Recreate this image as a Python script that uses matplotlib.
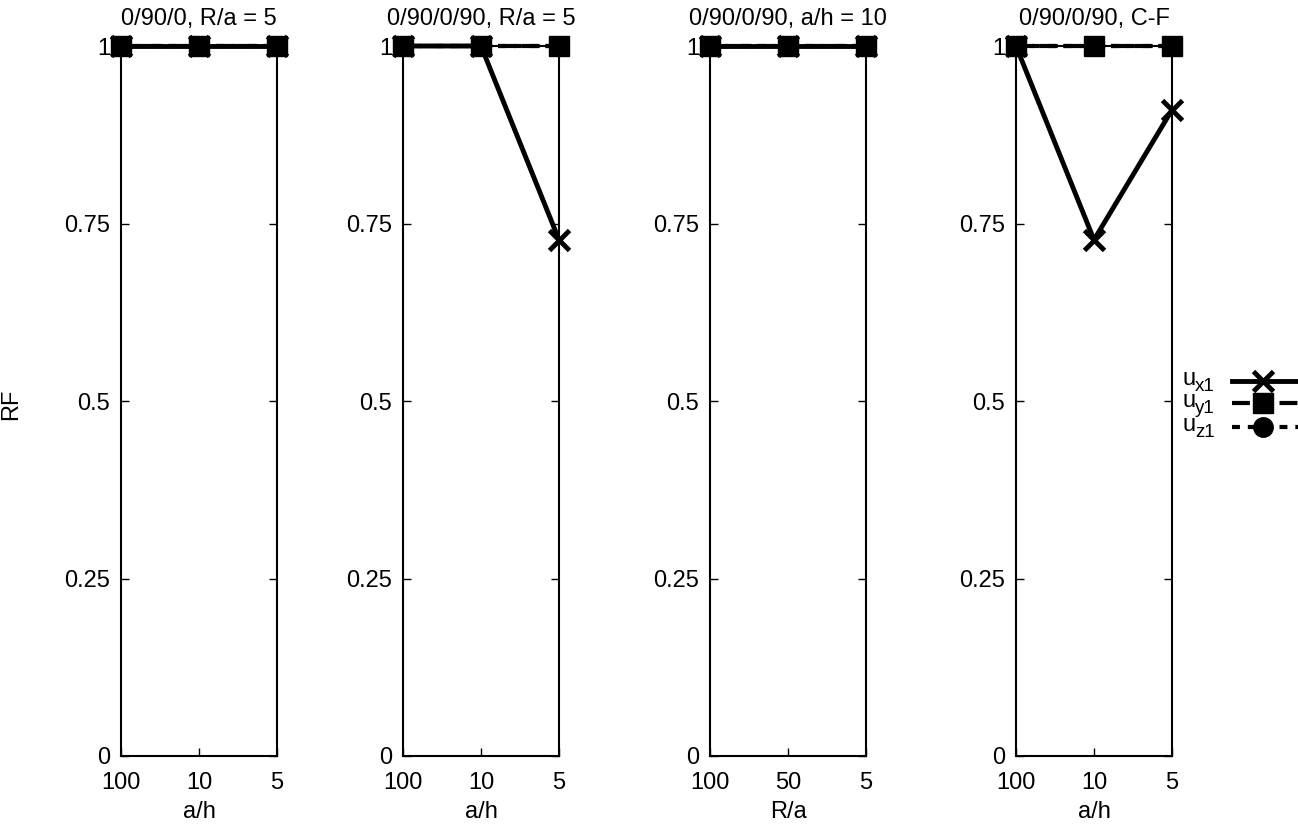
#!/usr/bin/env python3

import matplotlib
matplotlib.use('Agg')
import matplotlib.pyplot as plt

plt.rcParams['font.family'] = ['Liberation Sans', 'DejaVu Sans']

# panel data
titles = ['0/90/0, R/a = 5', '0/90/0/90, R/a = 5', '0/90/0/90, a/h = 10', '0/90/0/90, C-F']
xlabels = ['a/h', 'a/h', 'R/a', 'a/h']
xticklabels = [['100', '10', '5'], ['100', '10', '5'], ['100', '50', '5'], ['100', '10', '5']]
ux1 = [[1, 1, 1], [1, 1, 0.727], [1, 1, 1], [1, 0.727, 0.91]]
uy1 = [[1, 1, 1], [1, 1, 1], [1, 1, 1], [1, 1, 1]]
uz1 = [[1, 1, 1], [1, 1, 1], [1, 1, 1], [1, 1, 1]]
yticks = [0, 0.25, 0.5, 0.75, 1]
yticklabels = ['0', '0.25', '0.5', '0.75', '1']
series_subs = ['x1', 'y1', 'z1']

FS = 17
W, H = 1298, 824
fig = plt.figure(figsize=(W / 100, H / 100), dpi=100)
lefts = [121, 403, 710, 1016]

# line styles: ux solid, uy long dashes, uz short dashes
styles = [
    dict(lw=3.5, ls='-', marker='x', ms=15, mew=3.5),
    dict(lw=3.0, dashes=(4.3, 1.4), marker='s', ms=14, mew=1),
    dict(lw=3.0, dashes=(1.9, 1.9), marker='o', ms=14, mew=1),
]

for i in range(4):
    ax = fig.add_axes([lefts[i] / W, 1 - 756 / H, 156 / W, 710 / H])
    x = [0, 1, 2]
    data = [ux1[i], uy1[i], uz1[i]]
    line_z = [2.2, 2.1, 2.0]
    mark_z = [3.0, 3.2, 3.1]
    for d, st, lz, mz in zip(data, styles, line_z, mark_z):
        lkw = {k: v for k, v in st.items() if k in ('lw', 'ls', 'dashes')}
        ax.plot(x, d, color='black', zorder=lz, clip_on=False, **lkw)
        ax.plot(x, d, ls='none', marker=st['marker'], ms=st['ms'], mew=st['mew'],
                color='black', zorder=mz, clip_on=False)

    ax.set_xlim(0, 2)
    ax.set_ylim(0, 1)
    ax.set_xticks(x)
    ax.set_xticklabels(xticklabels[i])
    ax.set_yticks(yticks)
    ax.set_yticklabels(yticklabels)
    ax.tick_params(direction='in', top=True, right=True, length=6, width=1,
                   labelsize=FS)
    ax.tick_params(axis='x', pad=11.5)
    ax.tick_params(axis='y', pad=8)
    for s in ax.spines.values():
        s.set_linewidth(1.5)
    ax.set_title(titles[i], fontsize=FS, pad=15)
    ax.set_xlabel(xlabels[i], fontsize=FS, labelpad=5)

fig.text(11 / W, 1 - 404 / H, 'RF', rotation=90, fontsize=FS, va='center', ha='center')

# legend, drawn by hand so rows sit as tightly as in the original
lax = fig.add_axes([1175 / W, 1 - 470 / H, 123 / W, 110 / H])
lax.set_xlim(1175, 1298)
lax.set_ylim(470, 360)
lax.axis('off')
row_y = [381, 403, 427]
for sub, st, y in zip(series_subs, styles, row_y):
    lkw = {k: v for k, v in st.items() if k in ('lw', 'ls', 'dashes')}
    lax.plot([1232, 1298], [y, y], color='black', clip_on=False, **lkw)
    lax.plot([1263], [y], ls='none', marker=st['marker'], ms=st['ms'], mew=st['mew'],
             color='black', clip_on=False)
    lax.text(1183, y + 4, 'u', fontsize=FS, va='baseline', ha='left')
    lax.text(1195, y + 10, sub, fontsize=13.5, va='baseline', ha='left')

plt.savefig('out.png', dpi=100)
